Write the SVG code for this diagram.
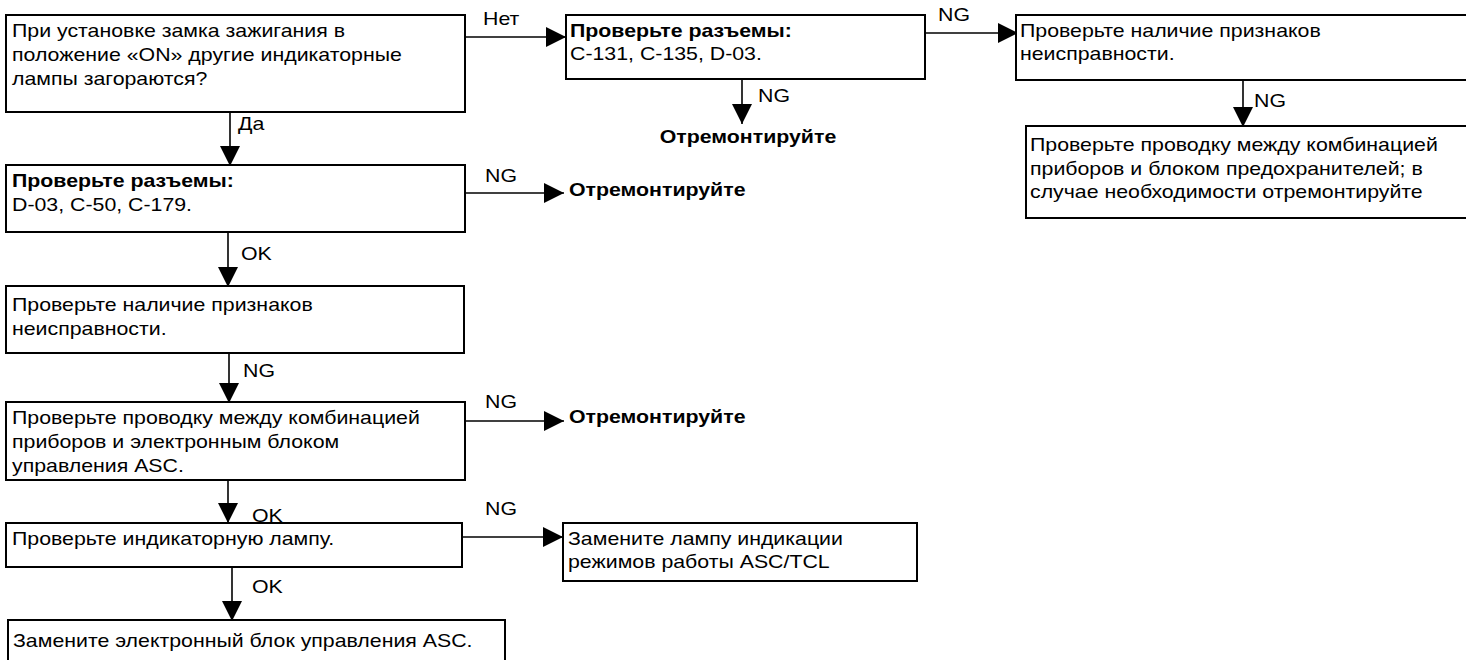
<svg xmlns="http://www.w3.org/2000/svg" width="1466" height="660" viewBox="0 0 1466 660">
  <style>
    .box { fill: #ffffff; stroke: #000000; stroke-width: 2; }
    .line { stroke: #000000; stroke-width: 1.6; fill: none; marker-end: url(#arrow); }
    text { font-family: "Liberation Sans", Arial, sans-serif; font-size: 18px; fill: #000000; }
    .b { font-weight: bold; }
  </style>
  <defs>
    <marker id="arrow" markerUnits="userSpaceOnUse" viewBox="0 0 20 20" refX="20" refY="10" markerWidth="20" markerHeight="20" orient="auto">
      <path d="M0,0 L20,10 L0,20 Z" fill="#000000"/>
    </marker>
  </defs>
  <rect width="1466" height="660" fill="#ffffff"/>

  <!-- connectors -->
  <g id="connectors">
    <line class="line" x1="230" y1="112" x2="230" y2="166"/>
    <line class="line" x1="466" y1="37" x2="566" y2="37"/>
    <line class="line" x1="742" y1="79" x2="742" y2="124"/>
    <line class="line" x1="926" y1="33" x2="1018" y2="33"/>
    <line class="line" x1="1243" y1="80" x2="1243" y2="127"/>
    <line class="line" x1="466" y1="193" x2="564" y2="193"/>
    <line class="line" x1="228" y1="232" x2="228" y2="287"/>
    <line class="line" x1="229" y1="353" x2="229" y2="403"/>
    <line class="line" x1="466" y1="421" x2="564" y2="421"/>
    <line class="line" x1="228" y1="480" x2="228" y2="523"/>
    <line class="line" x1="463" y1="537" x2="563" y2="537"/>
    <line class="line" x1="232" y1="567" x2="232" y2="621"/>
  </g>

  <!-- connector labels -->
  <g id="labels">
    <text transform="translate(238 130) scale(1.185 1)">Да</text>
    <text transform="translate(483 25) scale(1.185 1)">Нет</text>
    <text transform="translate(758 102) scale(1.185 1)">NG</text>
    <text transform="translate(938 21) scale(1.185 1)">NG</text>
    <text transform="translate(1254 107) scale(1.185 1)">NG</text>
    <text transform="translate(485 182) scale(1.185 1)">NG</text>
    <text transform="translate(241 260) scale(1.185 1)">OK</text>
    <text transform="translate(243 377) scale(1.185 1)">NG</text>
    <text transform="translate(485 408) scale(1.185 1)">NG</text>
    <text transform="translate(485 515) scale(1.185 1)">NG</text>
    <text transform="translate(252 522) scale(1.185 1)">OK</text>
    <text transform="translate(252 593) scale(1.185 1)">OK</text>
  </g>

  <!-- question: ignition ON -->
  <g id="q-ignition">
    <rect class="box" x="6" y="15" width="459" height="97"/>
    <text transform="translate(12 37) scale(1.185 1)">
      <tspan x="0" y="0">При установке замка зажигания в</tspan>
      <tspan x="0" y="24">положение «ON» другие индикаторные</tspan>
      <tspan x="0" y="48">лампы загораются?</tspan>
    </text>
  </g>

  <!-- connectors check, "no" branch -->
  <g id="check-conn-a">
    <rect class="box" x="566" y="15" width="359" height="64"/>
    <text transform="translate(570 37) scale(1.185 1)">
      <tspan x="0" y="0" class="b">Проверьте разъемы:</tspan>
      <tspan x="0" y="23">C-131, C-135, D-03.</tspan>
    </text>
  </g>

  <g id="repair-a">
    <text class="b" transform="translate(748 143) scale(1.185 1)" text-anchor="middle">Отремонтируйте</text>
  </g>

  <g id="symptoms-a">
    <rect class="box" x="1016" y="15" width="470" height="65"/>
    <text transform="translate(1020 37) scale(1.185 1)">
      <tspan x="0" y="0">Проверьте наличие признаков</tspan>
      <tspan x="0" y="23">неисправности.</tspan>
    </text>
  </g>

  <g id="wiring-fuse">
    <rect class="box" x="1026" y="126" width="460" height="92"/>
    <text transform="translate(1030 151) scale(1.185 1)">
      <tspan x="0" y="0">Проверьте проводку между комбинацией</tspan>
      <tspan x="0" y="24">приборов и блоком предохранителей; в</tspan>
      <tspan x="0" y="47">случае необходимости отремонтируйте</tspan>
    </text>
  </g>

  <!-- connectors check, "yes" branch -->
  <g id="check-conn-b">
    <rect class="box" x="6" y="165" width="459" height="67"/>
    <text transform="translate(12 187) scale(1.185 1)">
      <tspan x="0" y="0" class="b">Проверьте разъемы:</tspan>
      <tspan x="0" y="24">D-03, C-50, C-179.</tspan>
    </text>
  </g>

  <g id="repair-b">
    <text class="b" transform="translate(569 196) scale(1.185 1)">Отремонтируйте</text>
  </g>

  <g id="symptoms-b">
    <rect class="box" x="6" y="286" width="458" height="67"/>
    <text transform="translate(12 311) scale(1.185 1)">
      <tspan x="0" y="0">Проверьте наличие признаков</tspan>
      <tspan x="0" y="24">неисправности.</tspan>
    </text>
  </g>

  <g id="wiring-asc">
    <rect class="box" x="6" y="402" width="459" height="78"/>
    <text transform="translate(12 424) scale(1.185 1)">
      <tspan x="0" y="0">Проверьте проводку между комбинацией</tspan>
      <tspan x="0" y="24">приборов и электронным блоком</tspan>
      <tspan x="0" y="48">управления ASC.</tspan>
    </text>
  </g>

  <g id="repair-c">
    <text class="b" transform="translate(569 423) scale(1.185 1)">Отремонтируйте</text>
  </g>

  <g id="check-lamp">
    <rect class="box" x="6" y="523" width="456" height="44"/>
    <text transform="translate(12 545) scale(1.185 1)">Проверьте индикаторную лампу.</text>
  </g>

  <g id="replace-lamp">
    <rect class="box" x="563" y="523" width="354" height="58"/>
    <text transform="translate(568 545) scale(1.185 1)">
      <tspan x="0" y="0">Замените лампу индикации</tspan>
      <tspan x="0" y="23">режимов работы ASC/TCL</tspan>
    </text>
  </g>

  <g id="replace-ecu">
    <rect class="box" x="8" y="620" width="497" height="60"/>
    <text transform="translate(13 647) scale(1.185 1)">Замените электронный блок управления ASC.</text>
  </g>
</svg>
